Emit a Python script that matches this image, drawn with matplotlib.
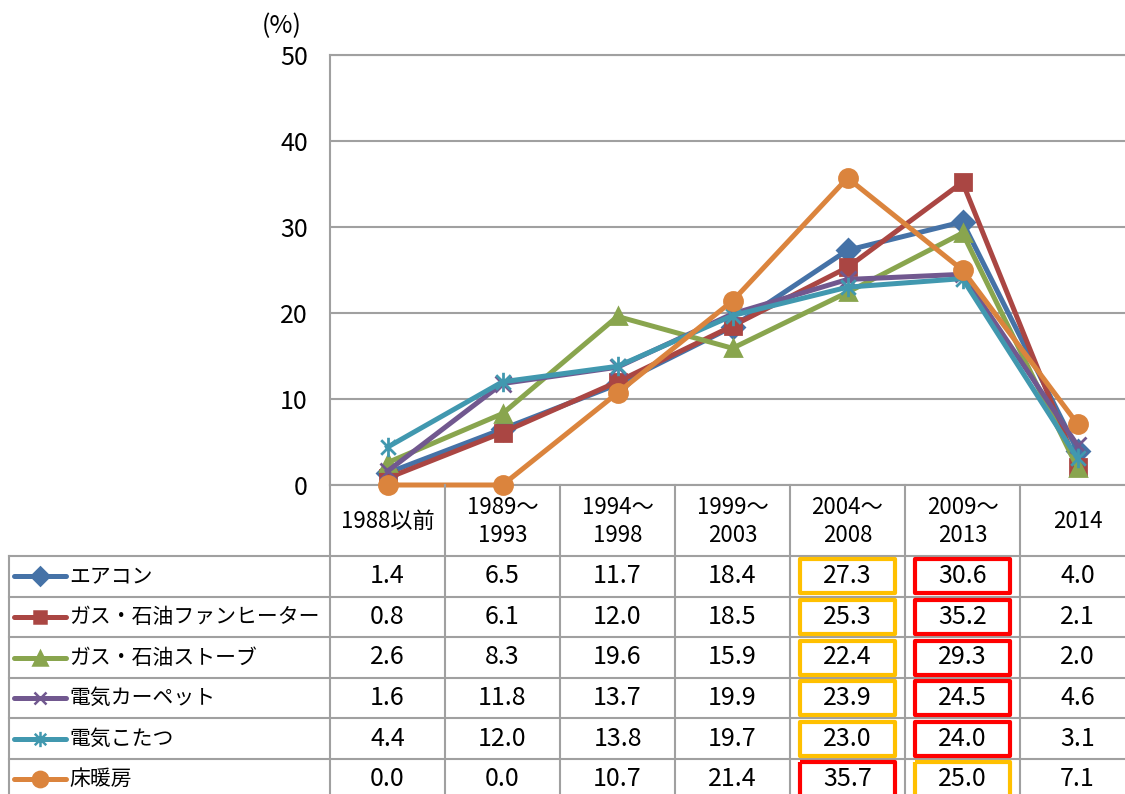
import matplotlib
matplotlib.use("Agg")
import matplotlib.pyplot as plt
from matplotlib.path import Path
from matplotlib.patches import Rectangle
import numpy as np

plt.rcParams['font.family'] = ['Noto Sans CJK JP', 'DejaVu Sans']

# --- data -------------------------------------------------------------
periods = ["1988以前", "1989～\n1993", "1994～\n1998", "1999～\n2003",
           "2004～\n2008", "2009～\n2013", "2014"]
series_names = ["エアコン", "ガス・石油ファンヒーター", "ガス・石油ストーブ",
                "電気カーペット", "電気こたつ", "床暖房"]
aircon      = [1.4, 6.5, 11.7, 18.4, 27.3, 30.6, 4.0]
fan_heater  = [0.8, 6.1, 12.0, 18.5, 25.3, 35.2, 2.1]
stove       = [2.6, 8.3, 19.6, 15.9, 22.4, 29.3, 2.0]
carpet      = [1.6, 11.8, 13.7, 19.9, 23.9, 24.5, 4.6]
kotatsu     = [4.4, 12.0, 13.8, 19.7, 23.0, 24.0, 3.1]
floor_heat  = [0.0, 0.0, 10.7, 21.4, 35.7, 25.0, 7.1]
all_series = [aircon, fan_heater, stove, carpet, kotatsu, floor_heat]
y_ticks = [0, 10, 20, 30, 40, 50]

# --- styles -----------------------------------------------------------
colors = ['#4572A7', '#AA4643', '#89A54E', '#71588F', '#4198AF', '#DB843D']
star = Path([(0, -1), (0, 1), (-0.75, -0.75), (0.75, 0.75), (-0.75, 0.75), (0.75, -0.75)],
            [Path.MOVETO, Path.LINETO, Path.MOVETO, Path.LINETO, Path.MOVETO, Path.LINETO])
markers = ['D', 's', '^', 'x', star, 'o']
msizes = [11, 11, 12, 11, 14, 13]
key_sizes = [9, 9, 10, 9, 11, 11]
grid_c = '#A0A0A0'
W, H = 1125, 794
FS_NUM = 18
FS_NAME = 15
FS_HEAD = 16


def fx(px):
    return px / W


def fy(py):
    return 1 - py / H


fig = plt.figure(figsize=(W / 100, H / 100), dpi=100)

# --- line chart ---------------------------------------------------------
ax = fig.add_axes([fx(330), fy(485), 805 / W, 430 / H])
x = np.arange(len(periods))
for vals, c, m, ms in zip(all_series, colors, markers, msizes):
    ax.plot(x, vals, color=c, lw=3.6, marker=m, ms=ms, mfc=c, mec=c,
            mew=2.0, clip_on=False, solid_joinstyle='round', zorder=3)
ax.set_xlim(-0.5, len(periods) - 0.5)
ax.set_ylim(0, 50)
ax.set_yticks(y_ticks)
ax.set_xticks([])
ax.yaxis.grid(True, color=grid_c, lw=1.5)
ax.set_axisbelow(True)
for side in ['top', 'bottom', 'left']:
    ax.spines[side].set_color(grid_c)
    ax.spines[side].set_linewidth(1.5)
ax.spines['right'].set_visible(False)
ax.tick_params(axis='y', length=0, labelsize=FS_NUM, pad=16)
fig.text(fx(262), fy(26), "(%)", fontsize=FS_NUM, ha='left', va='center')

# --- data table -------------------------------------------------------
tax = fig.add_axes([fx(330), fy(800), 805 / W, 315 / H])
tax.set_xlim(-0.5, len(periods) - 0.5)
tax.set_ylim(315, 0)
tax.axis('off')

head_h = 71
row_h = 40.6


def colx(px):
    return -0.5 + (px - 330) / 115


left_x = colx(9)
right_x = len(periods) - 0.5
line_kw = dict(color=grid_c, lw=1.5, clip_on=False, zorder=1)

# column separators
for j in range(len(periods) + 1):
    tax.plot([j - 0.5, j - 0.5], [0, 315], **line_kw)
# row separators
for i in range(len(series_names) + 1):
    yy = head_h + i * row_h
    tax.plot([left_x, right_x], [yy, yy], **line_kw)
tax.plot([left_x, left_x], [head_h, 315], **line_kw)

# header labels
for j, lab in enumerate(periods):
    tax.text(j, head_h / 2 + 1, lab, ha='center', va='center', fontsize=FS_HEAD,
             linespacing=1.25)

# rows: legend key, name, values, highlight boxes
for i, (name, vals, c, m, ks) in enumerate(zip(series_names, all_series,
                                                colors, markers, key_sizes)):
    yc = head_h + (i + 0.5) * row_h
    tax.plot([colx(14), colx(66)], [yc, yc], color=c, lw=3.6,
             solid_capstyle='round', clip_on=False, zorder=3)
    tax.plot([colx(40)], [yc], marker=m, ms=ks, color=c, mfc=c, mec=c,
             mew=1.8, clip_on=False, zorder=4)
    tax.text(colx(69), yc, name, ha='left', va='center', fontsize=FS_NAME)
    order = np.argsort(vals)[::-1]
    for j, v in enumerate(vals):
        tax.text(j, yc, f"{v:.1f}", ha='center', va='center', fontsize=FS_NUM)
    for rank, box_c in [(0, '#FF0000'), (1, '#FFC000')]:
        j = order[rank]
        tax.add_patch(Rectangle((j - 0.41, yc - 17), 0.82, 34, fill=False,
                                ec=box_c, lw=3.0, clip_on=False, zorder=5,
                                joinstyle='round'))

fig.savefig("out.png", dpi=100)
